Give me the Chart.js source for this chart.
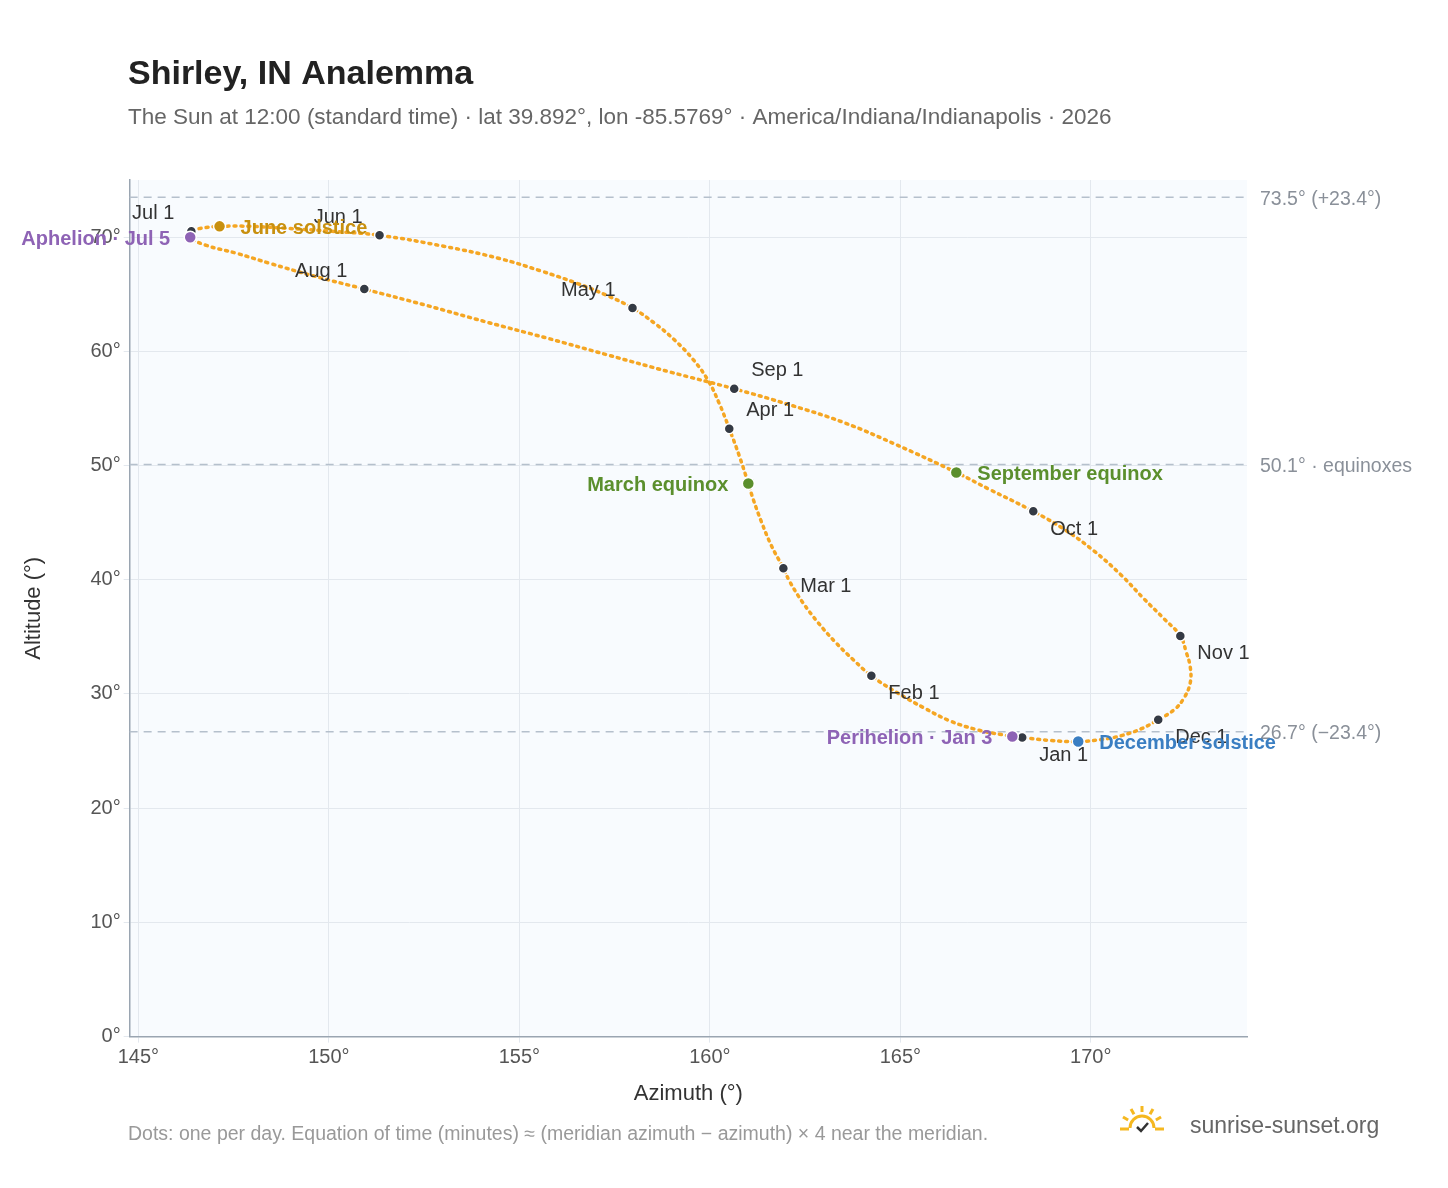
<!DOCTYPE html>
<html>
<head>
<meta charset="utf-8">
<script src="https://cdn.jsdelivr.net/npm/chart.js@4.4.1/dist/chart.umd.min.js"></script>
<style>
  html, body { margin: 0; padding: 0; background: #fff; }
  #wrap { width: 1448px; height: 1188px; position: relative; }
</style>
</head>
<body>
<div id="wrap"><canvas id="chart" width="1448" height="1188"></canvas></div>
<script>
// sun position at 12:00 roughly every 5 days
const pathAzimuth = [
  168.20, 167.66, 167.00, 166.29, 165.61, 164.92,
  164.24, 163.77, 163.29, 162.85, 162.43, 162.09,
  161.93, 161.61, 161.35, 161.14, 161.01, 160.77,
  160.51, 160.25, 159.96, 159.57, 159.07, 158.54,
  157.97, 157.28, 156.50, 155.58, 154.45, 153.01,
  151.33, 150.07, 148.88, 147.97, 147.13, 146.65,
  146.36, 146.36, 146.78, 147.57, 148.44, 149.62,
  150.93, 152.53, 154.13, 155.71, 157.31, 158.94,
  160.64, 162.09, 163.53, 164.89, 166.47, 167.34,
  168.49, 169.30, 170.09, 170.80, 171.40, 171.93,
  172.35, 172.51, 172.61, 172.61, 172.45, 172.19,
  171.77, 171.33, 170.80, 170.25, 169.67, 168.96, 168.20
];
const pathAltitude = [
  26.18, 26.44, 26.88, 27.66, 28.80, 30.10,
  31.59, 32.98, 34.55, 36.21, 38.05, 39.88,
  41.01, 43.02, 45.11, 47.03, 48.43, 50.87,
  53.23, 55.41, 57.42, 59.25, 61.00, 62.48,
  63.79, 64.92, 65.97, 67.02, 68.15, 69.20,
  70.16, 70.51, 70.77, 70.94, 70.94, 70.77,
  70.51, 69.98, 69.28, 68.59, 67.71, 66.58,
  65.45, 64.05, 62.57, 61.17, 59.69, 58.20,
  56.72, 55.32, 53.75, 51.83, 49.39, 47.91,
  45.99, 44.42, 42.50, 40.40, 38.31, 36.56,
  35.08, 33.60, 32.37, 30.98, 29.67, 28.62,
  27.75, 26.96, 26.35, 26.00, 25.83, 25.92, 26.18
];

const monthLabels = ["Jan 1", "Feb 1", "Mar 1", "Apr 1", "May 1", "Jun 1", "Jul 1", "Aug 1", "Sep 1", "Oct 1", "Nov 1", "Dec 1"];
const monthAzimuth = [168.20, 164.24, 161.93, 160.51, 157.97, 151.33, 146.39, 150.93, 160.64, 168.49, 172.35, 171.77];
const monthAltitude = [26.18, 31.59, 41.01, 53.23, 63.79, 70.16, 70.51, 65.45, 56.72, 45.99, 35.08, 27.75];
const monthSide = ["r", "r", "r", "ru", "lu", "lu", "lu", "lu", "ru", "r", "r", "r"];

const eventLabels = ["June solstice", "Aphelion · Jul 5", "March equinox", "September equinox", "Perihelion · Jan 3", "December solstice"];
const eventAzimuth = [147.13, 146.36, 161.01, 166.47, 167.94, 169.67];
const eventAltitude = [70.94, 69.98, 48.43, 49.39, 26.27, 25.83];
const eventColors = ["#c8900f", "#8e63b5", "#5b8f2d", "#5b8f2d", "#8e63b5", "#3a7ec2"];
const eventSide = ["r", "l", "l", "r", "l", "r"];

const refAltitude = [73.5, 50.1, 26.7];
const refLabels = ["73.5° (+23.4°)", "50.1° · equinoxes", "26.7° (−23.4°)"];

const pathData = pathAzimuth.map((x, i) => ({ x: x, y: pathAltitude[i] }));
const monthData = monthAzimuth.map((x, i) => ({ x: x, y: monthAltitude[i] }));
const eventData = eventAzimuth.map((x, i) => ({ x: x, y: eventAltitude[i] }));

const FONT = "Helvetica, 'Liberation Sans', Arial, sans-serif";

const decorPlugin = {
  id: "decor",
  beforeDraw(chart) {
    const { ctx, chartArea: a } = chart;
    ctx.save();
    ctx.fillStyle = "#f8fbfe";
    ctx.fillRect(a.left, a.top, a.right - a.left, a.bottom - a.top);
    ctx.restore();
  },
  beforeDatasetsDraw(chart) {
    const { ctx, chartArea: a, scales } = chart;
    ctx.save();
    ctx.strokeStyle = "#b5c0cc";
    ctx.lineWidth = 1.5;
    ctx.setLineDash([8, 6]);
    ctx.font = "19.5px " + FONT;
    ctx.fillStyle = "#8a9099";
    ctx.textBaseline = "middle";
    refAltitude.forEach((v, i) => {
      const y = scales.y.getPixelForValue(v);
      ctx.beginPath();
      ctx.moveTo(a.left, y);
      ctx.lineTo(a.right, y);
      ctx.stroke();
      ctx.fillText(refLabels[i], a.right + 13, y + 2);
    });
    ctx.restore();
  },
  afterDatasetsDraw(chart) {
    const { ctx, scales } = chart;
    ctx.save();
    ctx.textBaseline = "middle";
    ctx.font = "20px " + FONT;
    ctx.fillStyle = "#333";
    monthLabels.forEach((t, i) => {
      const px = scales.x.getPixelForValue(monthAzimuth[i]);
      const py = scales.y.getPixelForValue(monthAltitude[i]);
      const s = monthSide[i];
      const left = s[0] === "l";
      const up = s.length > 1;
      ctx.textAlign = left ? "right" : "left";
      ctx.fillText(t, px + (left ? -17 : 17), py + (up ? -18 : 18));
    });
    ctx.font = "bold 20px " + FONT;
    eventLabels.forEach((t, i) => {
      const px = scales.x.getPixelForValue(eventAzimuth[i]);
      const py = scales.y.getPixelForValue(eventAltitude[i]);
      const left = eventSide[i] === "l";
      ctx.fillStyle = eventColors[i];
      ctx.textAlign = left ? "right" : "left";
      ctx.fillText(t, px + (left ? -20 : 21), py + 2);
    });
    ctx.restore();
  },
  afterDraw(chart) {
    const { ctx } = chart;
    ctx.save();
    ctx.textBaseline = "alphabetic";
    ctx.textAlign = "left";
    ctx.fillStyle = "#222";
    ctx.font = "bold 34px " + FONT;
    ctx.fillText("Shirley, IN Analemma", 128, 84);
    ctx.fillStyle = "#666";
    ctx.font = "22.5px " + FONT;
    ctx.fillText("The Sun at 12:00 (standard time) · lat 39.892°, lon -85.5769° · America/Indiana/Indianapolis · 2026", 128, 124);
    ctx.fillStyle = "#999";
    ctx.font = "19.5px " + FONT;
    ctx.fillText("Dots: one per day. Equation of time (minutes) ≈ (meridian azimuth − azimuth) × 4 near the meridian.", 128, 1140);
    ctx.fillStyle = "#666";
    ctx.font = "23px " + FONT;
    ctx.fillText("sunrise-sunset.org", 1190, 1133);
    // little sun logo
    const cx = 1142, cy = 1128;
    ctx.strokeStyle = "#f5b820";
    ctx.lineWidth = 3;
    ctx.beginPath();
    ctx.arc(cx, cy, 12, Math.PI, 2 * Math.PI);
    ctx.stroke();
    [-150, -120, -90, -60, -30].forEach(d => {
      const r = d * Math.PI / 180;
      ctx.beginPath();
      ctx.moveTo(cx + Math.cos(r) * 16, cy + Math.sin(r) * 16);
      ctx.lineTo(cx + Math.cos(r) * 22, cy + Math.sin(r) * 22);
      ctx.stroke();
    });
    ctx.beginPath();
    ctx.moveTo(cx - 22, cy + 1); ctx.lineTo(cx - 13, cy + 1);
    ctx.moveTo(cx + 13, cy + 1); ctx.lineTo(cx + 22, cy + 1);
    ctx.stroke();
    ctx.strokeStyle = "#333";
    ctx.lineWidth = 2.5;
    ctx.beginPath();
    ctx.moveTo(cx - 5, cy - 1); ctx.lineTo(cx - 1, cy + 3); ctx.lineTo(cx + 6, cy - 5);
    ctx.stroke();
    ctx.restore();
  }
};

new Chart(document.getElementById("chart"), {
  type: "scatter",
  data: {
    datasets: [
      {
        data: eventData,
        pointRadius: 6,
        pointBackgroundColor: eventColors,
        pointBorderColor: "#fff",
        pointBorderWidth: 1.5,
        order: 0
      },
      {
        data: monthData,
        pointRadius: 5,
        pointBackgroundColor: "#343a44",
        pointBorderColor: "#fff",
        pointBorderWidth: 1.5,
        order: 1
      },
      {
        data: pathData,
        showLine: true,
        borderColor: "#f5a623",
        borderWidth: 3.5,
        borderDash: [2, 5],
        borderCapStyle: "round",
        tension: 0.4,
        pointRadius: 0,
        order: 2
      }
    ]
  },
  options: {
    responsive: false,
    animation: false,
    layout: { padding: { top: 180, right: 201, bottom: 77, left: 17 } },
    plugins: { legend: { display: false }, tooltip: { enabled: false } },
    scales: {
      x: {
        type: "linear",
        min: 144.77,
        max: 174.1,
        ticks: { stepSize: 5, includeBounds: false, color: "#555", font: { size: 20, family: FONT }, callback: v => v + "°" },
        grid: { color: "#e3e8ee", drawTicks: true, tickLength: 6 },
        border: { color: "#9aa5b1", width: 1.5 },
        title: { display: true, text: "Azimuth (°)", color: "#333", font: { size: 22, family: FONT }, padding: { top: 8 } }
      },
      y: {
        min: 0,
        max: 75,
        ticks: { stepSize: 10, includeBounds: false, color: "#555", font: { size: 20, family: FONT }, callback: v => v + "°" },
        grid: { color: "#e3e8ee", tickLength: 6 },
        border: { color: "#9aa5b1", width: 1.5 },
        title: { display: true, text: "Altitude (°)", color: "#333", font: { size: 22, family: FONT }, padding: { top: 4, bottom: 40 } }
      }
    }
  },
  plugins: [decorPlugin]
});
</script>
</body>
</html>
